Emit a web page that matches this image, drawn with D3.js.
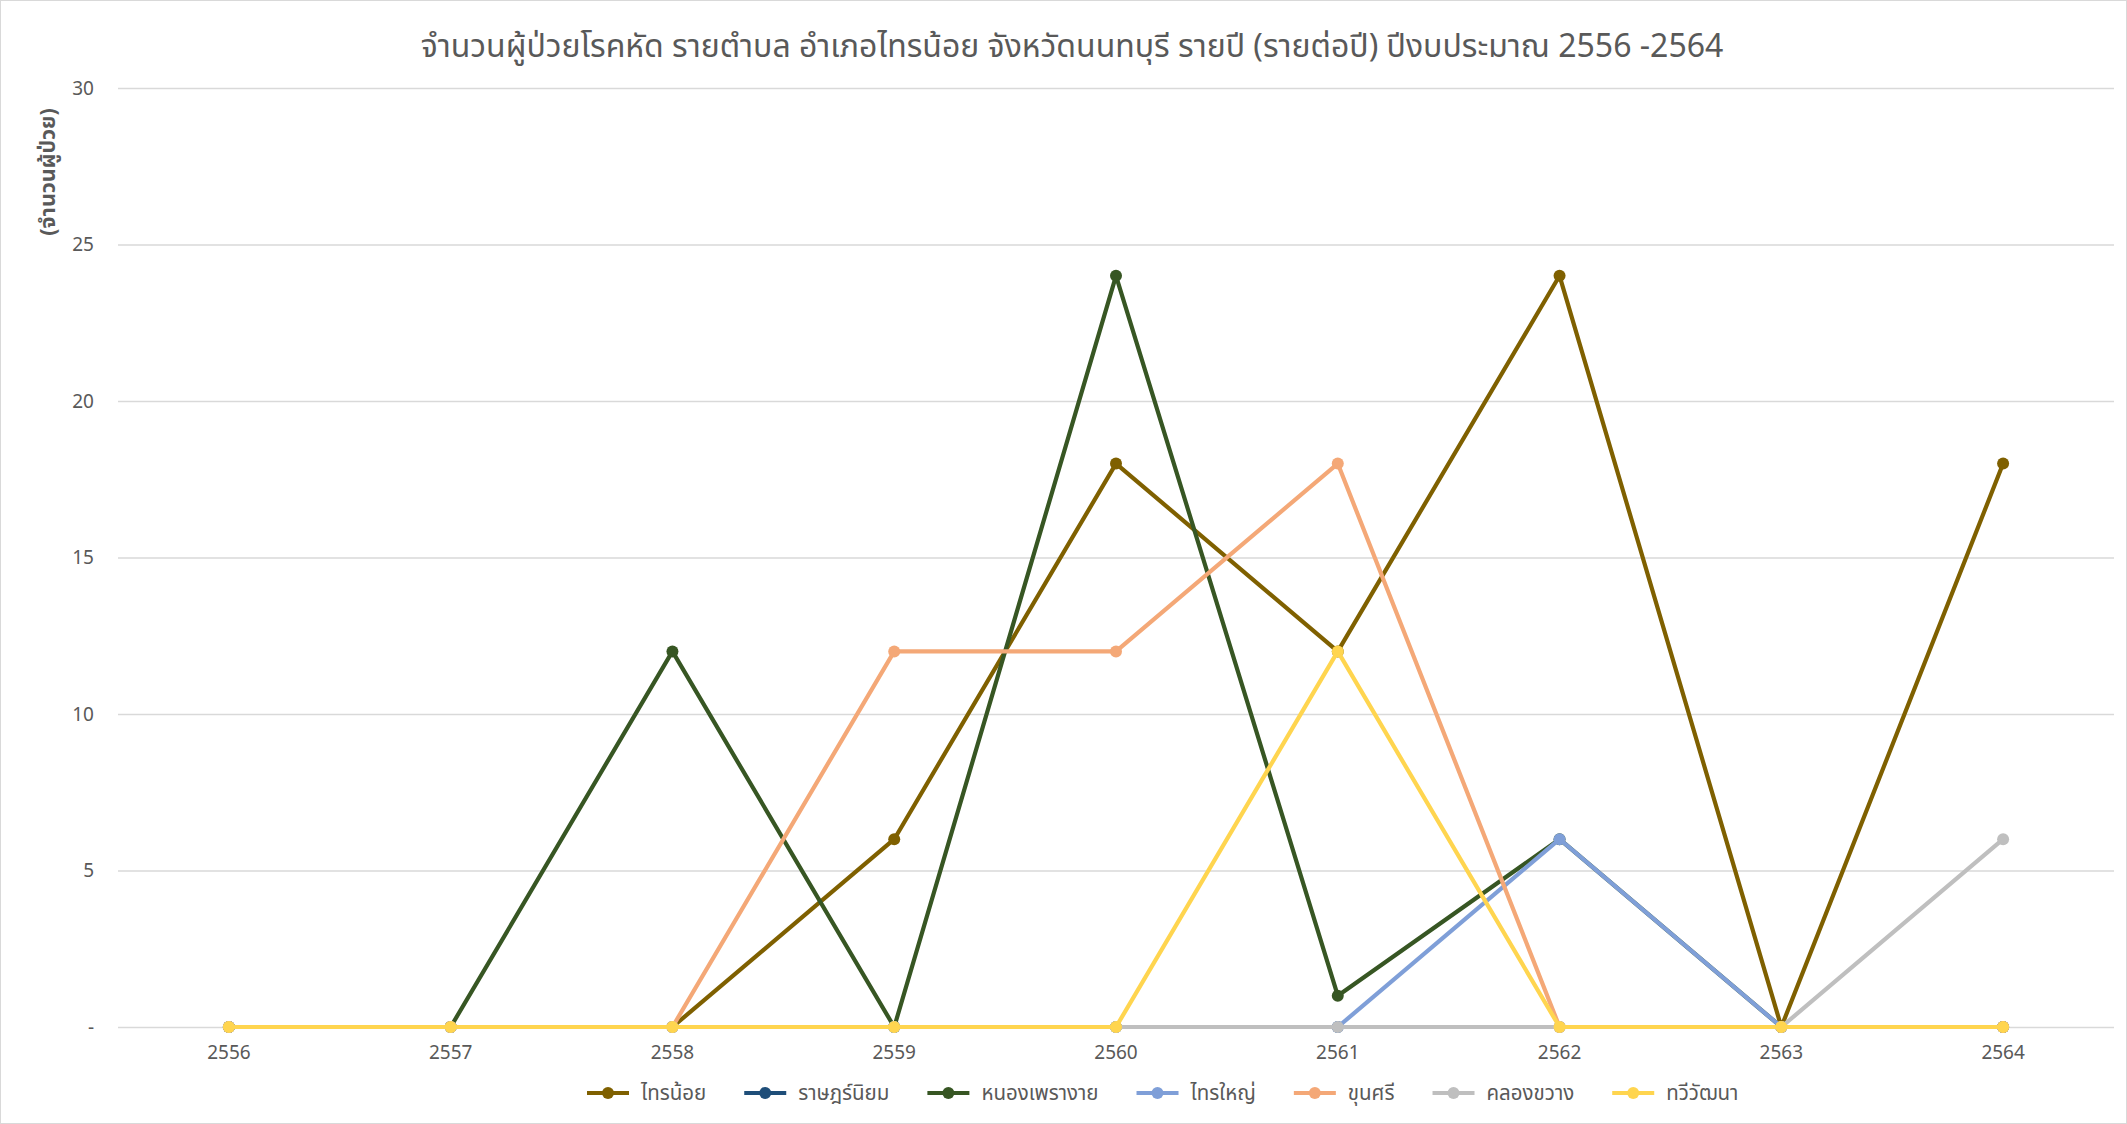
<!DOCTYPE html>
<html><head><meta charset="utf-8">
<script src="https://cdn.jsdelivr.net/npm/d3@7"></script>
<style>
html,body{margin:0;padding:0;background:#fff;}
svg text{font-family:"Noto Sans Thai","Leelawadee UI","Noto Sans","Open Sans",sans-serif;}
</style></head>
<body><svg id="c" width="2127" height="1124"></svg>
<script>
const years = ["2556","2557","2558","2559","2560","2561","2562","2563","2564"];
const seriesNames = ["ไทรน้อย","ราษฎร์นิยม","หนองเพรางาย","ไทรใหญ่","ขุนศรี","คลองขวาง","ทวีวัฒนา"];
const saiNoi      = [0,0,0,6,18,12,24,0,18];
const ratNiyom    = [0,0,0,0,0,0,0,0,0];
const nongPhrao   = [0,0,12,0,24,1,6,0,0];
const saiYai      = [0,0,0,0,0,0,6,0,0];
const khunSi      = [0,0,0,12,12,18,0,0,0];
const khlongKhwang= [0,0,0,0,0,0,0,0,6];
const thawiWatthana=[0,0,0,0,0,12,0,0,0];
const yTicks = [0,5,10,15,20,25,30];
const colors = ["#7F6000","#1F4E79","#375623","#7F9FD8","#F4A877","#BFBFBF","#FFD54F"];
const title = "จำนวนผู้ป่วยโรคหัด รายตำบล อำเภอไทรน้อย จังหวัดนนทบุรี รายปี (รายต่อปี) ปีงบประมาณ 2556 -2564";
const yTitle = "(จำนวนผู้ป่วย)";

const allValues = [saiNoi,ratNiyom,nongPhrao,saiYai,khunSi,khlongKhwang,thawiWatthana];
const series = seriesNames.map((n,i)=>({name:n,values:allValues[i],color:colors[i]}));

const svg = d3.select("#c");
const W=2127,H=1124;
svg.append("rect").attr("x",0.5).attr("y",0.5).attr("width",W-1).attr("height",H-1)
  .attr("fill","#fff").attr("stroke","#D9D9D9");

const m = {left:118,right:2114,top:88,bottom:1027};
const x = d3.scaleBand().domain(years).range([m.left,m.right]);
const y = d3.scaleLinear().domain([0,30]).range([m.bottom,m.top]);
const xc = d=>x(d)+x.bandwidth()/2;

// grid + y axis
const yAxis = d3.axisLeft(y).tickValues(yTicks).tickSize(-(m.right-m.left)).tickPadding(24)
  .tickFormat(d=>d===0?"-":d);
const gy = svg.append("g").attr("transform",`translate(${m.left},0)`).call(yAxis);
gy.select(".domain").remove();
gy.selectAll(".tick line").attr("stroke","#D9D9D9").attr("stroke-width",1.3);
gy.selectAll(".tick text").attr("fill","#595959").style("font-size","19px");

// x axis
const xAxis = d3.axisBottom(x).tickSize(0).tickPadding(18.5);
const gx = svg.append("g").attr("transform",`translate(0,${m.bottom})`).call(xAxis);
gx.select(".domain").remove();
gx.selectAll(".tick text").attr("fill","#595959").style("font-size","19px");

// lines
const line = d3.line().x((d,i)=>xc(years[i])).y(d=>y(d));
series.forEach(s=>{
  const g = svg.append("g");
  g.append("path").attr("d",line(s.values)).attr("fill","none").attr("stroke",s.color)
    .attr("stroke-width",4.2).attr("stroke-linejoin","round").attr("stroke-linecap","round");
  g.selectAll("circle").data(s.values).join("circle")
    .attr("cx",(d,i)=>xc(years[i])).attr("cy",d=>y(d)).attr("r",6).attr("fill",s.color);
});

// title
svg.append("text").attr("x",1072).attr("y",57).attr("text-anchor","middle")
  .attr("fill","#595959").style("font-size","32px").text(title);

// y title
svg.append("text").attr("transform","translate(55,172) rotate(-90)").attr("text-anchor","middle")
  .attr("fill","#595959").style("font-size","21.5px").style("font-weight","bold").text(yTitle);

// legend
const lg = svg.append("g");
let cx = 0;
series.forEach(s=>{
  const it = lg.append("g").attr("transform",`translate(${cx},0)`);
  it.append("line").attr("x1",0).attr("x2",42).attr("y1",0).attr("y2",0)
    .attr("stroke",s.color).attr("stroke-width",4.2);
  it.append("circle").attr("cx",21).attr("cy",0).attr("r",6).attr("fill",s.color);
  const t = it.append("text").attr("x",54).attr("y",7).attr("fill","#595959")
    .style("font-size","20.5px").text(s.name);
  const w = t.node().getComputedTextLength();
  cx += 54 + w + 38;
});
lg.attr("transform",`translate(587,1093)`);
</script></body></html>
